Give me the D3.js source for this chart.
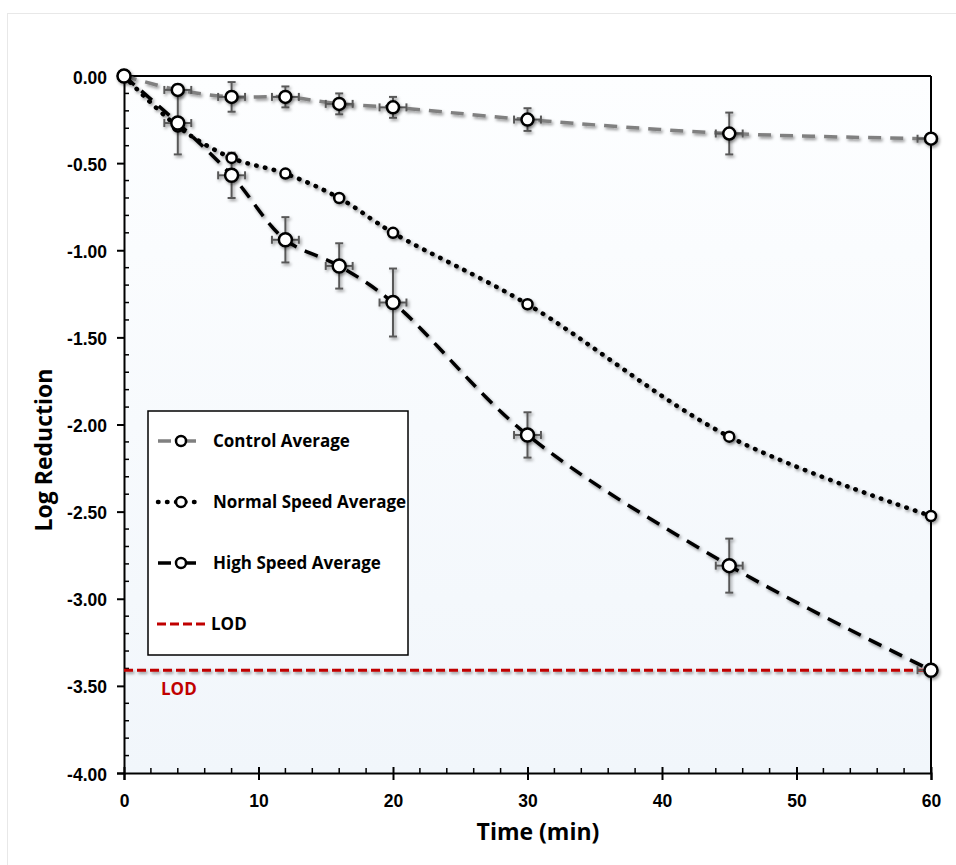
<!DOCTYPE html>
<html><head><meta charset="utf-8">
<script src="https://cdn.jsdelivr.net/npm/d3@7"></script>
<style>body{margin:0;background:#fff;}svg{display:block;font-family:"Open Sans","Noto Sans",sans-serif;}</style>
</head><body>
<script>
const times = [0, 4, 8, 12, 16, 20, 30, 45, 60];
const controlAvg = [0, -0.08, -0.12, -0.12, -0.16, -0.18, -0.25, -0.33, -0.36];
const controlErr = [0, 0.03, 0.085, 0.06, 0.06, 0.06, 0.065, 0.12, 0];
const normalAvg = [0, -0.29, -0.47, -0.56, -0.70, -0.90, -1.31, -2.07, -2.525];
const highAvg = [0, -0.27, -0.57, -0.94, -1.09, -1.30, -2.06, -2.81, -3.41];
const highErr = [0, 0.18, 0.13, 0.13, 0.13, 0.195, 0.13, 0.155, 0];
const timeErr = [0, 1, 1, 1, 1, 1, 1, 1, 1];
const lodValue = -3.41;
const yTicks = [0, -0.5, -1, -1.5, -2, -2.5, -3, -3.5, -4];
const xTicks = [0, 10, 20, 30, 40, 50, 60];
const legendLabels = ["Control Average", "Normal Speed Average", "High Speed Average", "LOD"];

const W = 956, H = 865;
const svg = d3.select("body").append("svg").attr("width", W).attr("height", H);
const defs = svg.append("defs");
const grad = defs.append("linearGradient").attr("id", "bg").attr("x1", 0).attr("x2", 0).attr("y1", 0).attr("y2", 1);
grad.append("stop").attr("offset", "0%").attr("stop-color", "#fdfeff");
grad.append("stop").attr("offset", "100%").attr("stop-color", "#f1f6fb");
const f = defs.append("filter").attr("id", "sh").attr("x", "-20%").attr("y", "-20%").attr("width", "140%").attr("height", "140%");
f.append("feDropShadow").attr("dx", 1.5).attr("dy", 2).attr("stdDeviation", 1.6).attr("flood-color", "#000").attr("flood-opacity", 0.4);
defs.append("clipPath").attr("id", "clip").append("rect").attr("x", 124).attr("y", 60).attr("width", 807).attr("height", 713);

svg.append("rect").attr("x", 7.5).attr("y", 13.5).attr("width", W).attr("height", H).attr("fill", "none").attr("stroke", "#e8e8e8");

const x = d3.scaleLinear().domain([0, 60]).range([124, 931]);
const y = d3.scaleLinear().domain([0, -4]).range([76, 773]);

svg.append("rect").attr("x", x(0)).attr("y", y(0)).attr("width", x(60) - x(0)).attr("height", y(-4) - y(0)).attr("fill", "url(#bg)");

svg.append("line").attr("x1", x(0)).attr("x2", x(60)).attr("y1", y(0)).attr("y2", y(0)).attr("stroke", "#000").attr("stroke-width", 2);
svg.append("line").attr("x1", x(60)).attr("x2", x(60)).attr("y1", y(0)).attr("y2", y(-4)).attr("stroke", "#000").attr("stroke-width", 2);

const yAxis = d3.axisLeft(y).tickValues(yTicks).tickSize(7).tickFormat(d => d.toFixed(2));
const gy = svg.append("g").attr("transform", `translate(${x(0)},0)`).call(yAxis);
gy.select(".domain").attr("stroke-width", 2);
gy.selectAll(".tick line").attr("stroke-width", 2);
gy.selectAll("text").attr("font-size", 17.5).attr("font-weight", "bold").attr("x", -17).attr("dy", "0.4em").attr("fill", "#000");
const yMinor = d3.range(1, 40).map(i => -i / 10).filter(v => Math.abs(v * 2 - Math.round(v * 2)) > 1e-6);
svg.append("g").selectAll("line").data(yMinor).join("line")
  .attr("x1", x(0)).attr("x2", x(0) + 5).attr("y1", d => y(d)).attr("y2", d => y(d)).attr("stroke", "#000").attr("stroke-width", 1.5);

const xAxis = d3.axisBottom(x).tickValues(xTicks).tickSize(7).tickFormat(d => String(d));
const gx = svg.append("g").attr("transform", `translate(0,${y(-4)})`).call(xAxis);
gx.select(".domain").attr("stroke-width", 2);
gx.selectAll(".tick line").attr("stroke-width", 2).attr("y1", -6);
gx.selectAll("text").attr("font-size", 17.5).attr("font-weight", "bold").attr("y", 34).attr("dy", null).attr("fill", "#000");
const xMinor = d3.range(2, 60, 2).filter(v => v % 10 !== 0);
svg.append("g").selectAll("line").data(xMinor).join("line")
  .attr("x1", d => x(d)).attr("x2", d => x(d)).attr("y1", y(-4)).attr("y2", y(-4) - 5).attr("stroke", "#000").attr("stroke-width", 1.5);

svg.append("text").attr("x", 538).attr("y", 840).attr("text-anchor", "middle").attr("font-size", 23).attr("font-weight", "bold").text("Time (min)");
svg.append("text").attr("transform", `translate(52,450) rotate(-90)`).attr("text-anchor", "middle").attr("font-size", 23).attr("font-weight", "bold").text("Log Reduction");

const plot = svg.append("g").attr("clip-path", "url(#clip)");
const inner = plot.append("g").attr("filter", "url(#sh)");

inner.append("line").attr("x1", x(0)).attr("x2", x(60)).attr("y1", y(lodValue)).attr("y2", y(lodValue))
  .attr("stroke", "#c00000").attr("stroke-width", 3).attr("stroke-dasharray", "9,4");
svg.append("text").attr("x", 161).attr("y", 695).attr("fill", "#c00000").attr("font-size", 17).attr("font-weight", "bold").text("LOD");

const line = d3.line().curve(d3.curveCatmullRom.alpha(0.5));
const series = [
  {vals: controlAvg, err: controlErr, color: "#808080", dash: "13,9", cap: "butt", w: 3.5, r: 6},
  {vals: normalAvg, err: null, color: "#000", dash: "0.5,8.5", cap: "round", w: 4.5, r: 5},
  {vals: highAvg, err: highErr, color: "#000", dash: "14,9", cap: "butt", w: 3.5, r: 6.5}
];
series.forEach(s => {
  inner.append("path").attr("d", line(times.map((t, i) => [x(t), y(s.vals[i])])))
    .attr("fill", "none").attr("stroke", s.color).attr("stroke-width", s.w)
    .attr("stroke-dasharray", s.dash).attr("stroke-linecap", s.cap);
});
series.forEach(s => {
  if (!s.err) return;
  const g = inner.append("g").attr("stroke", "#595959").attr("stroke-width", 2).attr("fill", "none");
  times.forEach((t, i) => {
    const cx = x(t), cy = y(s.vals[i]);
    if (s.err[i] > 0) {
      const y1 = y(s.vals[i] + s.err[i]), y2 = y(s.vals[i] - s.err[i]);
      g.append("line").attr("x1", cx).attr("x2", cx).attr("y1", y1).attr("y2", y2);
      g.append("line").attr("x1", cx - 4).attr("x2", cx + 4).attr("y1", y1).attr("y2", y1);
      g.append("line").attr("x1", cx - 4).attr("x2", cx + 4).attr("y1", y2).attr("y2", y2);
    }
    if (timeErr[i] > 0) {
      const x1 = x(t - timeErr[i]), x2 = x(t + timeErr[i]);
      g.append("line").attr("x1", x1).attr("x2", x2).attr("y1", cy).attr("y2", cy);
      g.append("line").attr("x1", x1).attr("x2", x1).attr("y1", cy - 4).attr("y2", cy + 4);
      g.append("line").attr("x1", x2).attr("x2", x2).attr("y1", cy - 4).attr("y2", cy + 4);
    }
  });
});
const marks = svg.append("g").attr("filter", "url(#sh)");
series.forEach(s => {
  marks.append("g").selectAll("circle").data(times).join("circle")
    .attr("cx", d => x(d)).attr("cy", (d, i) => y(s.vals[i])).attr("r", s.r)
    .attr("fill", "#fff").attr("stroke", "#000").attr("stroke-width", 2.5);
});

const lg = svg.append("g");
lg.append("rect").attr("x", 148).attr("y", 411).attr("width", 260).attr("height", 244).attr("fill", "#fff").attr("stroke", "#000").attr("stroke-width", 1.5);
const ly = [441, 502, 563, 624];
series.forEach((s, i) => {
  lg.append("line").attr("x1", 158).attr("x2", 197).attr("y1", ly[i]).attr("y2", ly[i])
    .attr("stroke", s.color).attr("stroke-width", s.w).attr("stroke-dasharray", i === 1 ? "0.5,8.5" : "13,12").attr("stroke-linecap", s.cap);
  lg.append("circle").attr("cx", 181).attr("cy", ly[i]).attr("r", 5).attr("fill", "#fff").attr("stroke", "#000").attr("stroke-width", 2.5);
});
lg.append("line").attr("x1", 157).attr("x2", 208).attr("y1", ly[3]).attr("y2", ly[3]).attr("stroke", "#c00000").attr("stroke-width", 3).attr("stroke-dasharray", "9,4");
legendLabels.forEach((l, i) => {
  lg.append("text").attr("x", i === 3 ? 211 : 213).attr("y", ly[i] + 6).attr("font-size", 17).attr("font-weight", "bold").text(l);
});
</script>
</body></html>
